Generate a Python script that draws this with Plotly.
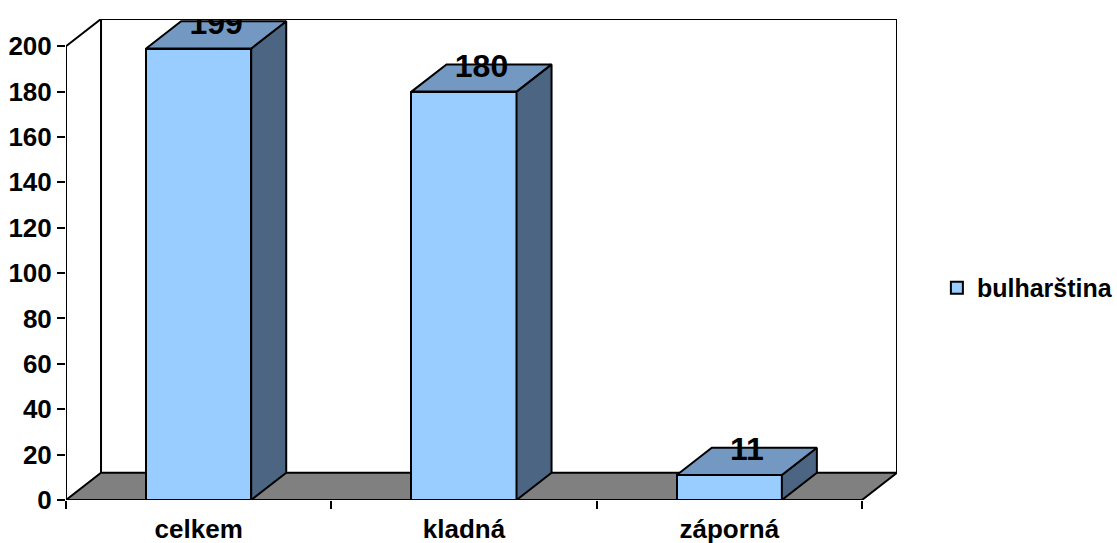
import plotly.graph_objects as go

categories = ["celkem", "kladná", "záporná"]
values = [199, 180, 11]
series_name = "bulharština"
y_ticks = [0, 20, 40, 60, 80, 100, 120, 140, 160, 180, 200]

# 3D look parameters (depth offsets in axis units)
DX = 0.132
DY = 12.0
BW = 0.396
YMAX = 200
LW = 2

FRONT = "#99CCFF"
TOP = "#7399C2"
SIDE = "#4B6582"
FLOOR = "#808080"
FONT = "Liberation Sans, Arial, sans-serif"

xs = list(range(len(categories)))
x0, x1 = -0.5, len(categories) - 0.5

fig = go.Figure()

# floor
fig.add_trace(go.Scatter(
    x=[x0, x1, x1 + DX, x0 + DX, x0], y=[0, 0, DY, DY, 0],
    fill="toself", fillcolor=FLOOR, mode="lines",
    line=dict(color="black", width=LW), showlegend=False, hoverinfo="skip", zorder=-2))
# walls outline
fig.add_trace(go.Scatter(
    x=[x0, x0, x0 + DX, x1 + DX, x1 + DX], y=[0, YMAX, YMAX + DY, YMAX + DY, DY],
    mode="lines", line=dict(color="black", width=LW), showlegend=False,
    hoverinfo="skip", zorder=-2, cliponaxis=False))
fig.add_trace(go.Scatter(
    x=[x0 + DX, x0 + DX], y=[DY, YMAX + DY],
    mode="lines", line=dict(color="black", width=LW), showlegend=False,
    hoverinfo="skip", zorder=-2, cliponaxis=False))
# front floor edge (x axis line)
fig.add_trace(go.Scatter(
    x=[x0, x1], y=[0, 0], mode="lines", line=dict(color="black", width=LW),
    showlegend=False, hoverinfo="skip", zorder=-1, cliponaxis=False))

# bars (front faces)
fig.add_trace(go.Bar(
    x=xs, y=values, width=BW, name=series_name,
    marker=dict(color=FRONT, line=dict(color="black", width=LW)),
    zorder=0))

# side and top faces
for c, v in zip(xs, values):
    r = c + BW / 2
    l = c - BW / 2
    fig.add_trace(go.Scatter(
        x=[r, r + DX, r + DX, r, r], y=[0, DY, v + DY, v, 0],
        fill="toself", fillcolor=SIDE, mode="lines",
        line=dict(color="black", width=LW), showlegend=False,
        hoverinfo="skip", zorder=1))
    fig.add_trace(go.Scatter(
        x=[l, l + DX, r + DX, r, l], y=[v, v + DY, v + DY, v, v],
        fill="toself", fillcolor=TOP, mode="lines",
        line=dict(color="black", width=LW), showlegend=False,
        hoverinfo="skip", zorder=1))

# value labels
fig.add_trace(go.Scatter(
    x=[c + DX / 2 for c in xs], y=[v + DY - 2 for v in values],
    mode="text", text=[str(v) for v in values],
    textfont=dict(family=FONT, size=32, color="black", weight="bold"),
    textposition="middle center", showlegend=False, hoverinfo="skip",
    zorder=2, cliponaxis=False))

# boundary ticks on overlay axis
fig.add_trace(go.Scatter(x=[x0, x1], y=[0, 0], xaxis="x2", mode="lines",
                         line=dict(width=0), showlegend=False, hoverinfo="skip"))

fig.update_layout(
    width=1117, height=543,
    margin=dict(l=66, r=220, t=19, b=43, autoexpand=False),
    paper_bgcolor="white", plot_bgcolor="white",
    font=dict(family=FONT, size=26, color="black", weight="bold"),
    xaxis=dict(range=[x0, x1 + DX], tickvals=xs, ticktext=categories,
               ticks="outside", ticklen=6, tickcolor="rgba(0,0,0,0)",
               showgrid=False, zeroline=False, showline=False,
               tickfont=dict(size=26), automargin=False),
    xaxis2=dict(range=[x0, x1 + DX], overlaying="x", side="bottom",
                tickvals=[x0 + i for i in range(len(categories) + 1)],
                ticks="outside", ticklen=8, tickwidth=LW, tickcolor="black",
                showticklabels=False, showgrid=False, zeroline=False,
                showline=False, automargin=False),
    yaxis=dict(range=[0, YMAX + DY], tickvals=y_ticks,
               ticks="outside", ticklen=8, tickwidth=LW, tickcolor="black",
               showgrid=False, zeroline=False, showline=False,
               tickfont=dict(size=26), automargin=False),
    showlegend=True,
    legend=dict(x=1.048, y=0.441, xanchor="left", yanchor="middle",
                font=dict(size=25), bgcolor="rgba(0,0,0,0)"),
    bargap=0,
)

fig.write_html("out.html", config={"displayModeBar": False},
               post_script="document.body.style.margin='0';document.body.style.overflow='hidden';")
